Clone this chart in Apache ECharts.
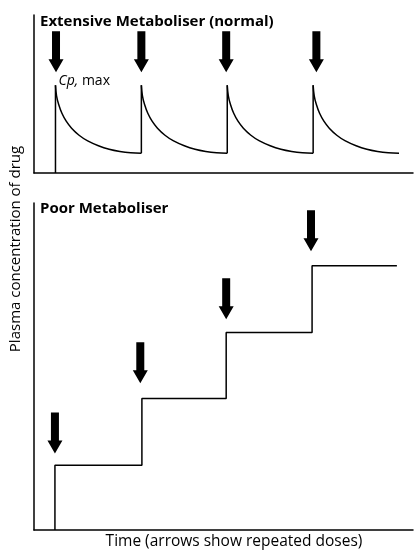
<!DOCTYPE html>
<html>
<head>
<meta charset="utf-8">
<script src="https://cdn.jsdelivr.net/npm/echarts@6/dist/echarts.min.js"></script>
<style>
  html, body { margin: 0; padding: 0; background: #fff; }
  #chart { width: 414px; height: 552px; }
</style>
</head>
<body>
<div id="chart"></div>
<script>
// Values (time in hours, arbitrary concentration units)

// Extensive metaboliser: a dose every 8 h, each followed by the same decay
const normalDoseTimes = [2, 10, 18, 26]
const decayOffsets = [0, 0.1, 0.3, 0.6, 1.0, 1.5, 2.2, 3.0, 4.0, 5.0, 6.0, 7.0, 8.0]
const decayLevels = [100, 88, 78, 68, 59, 51, 43, 36.5, 31, 27, 24.5, 23, 22.4]
const normalArrowTimes = [2.05, 10.0, 17.9, 26.3]
const normalArrowLevels = [138, 138, 138, 138]

// Poor metaboliser: each dose adds to what is already there
const poorDoseTimes = [1.95, 10.05, 17.9, 25.9]
const poorLevels = [0.98, 1.99, 2.99, 4.0]
const poorEndTime = 33.8
const poorArrowTimes = [1.95, 9.9, 17.9, 25.8]
const poorArrowLevels = [1.47, 2.53, 3.5, 4.53]

const FONT = "'Open Sans', Lato, sans-serif"
const INK = "#000"
const ARROW = "path://M3.5,0H11.5V28H15L7.5,41L0,28H3.5Z"

const hiddenAxis = (gridIndex, min, max) => ({
  type: "value",
  gridIndex,
  min,
  max,
  axisLine: { lineStyle: { color: INK, width: 1.5 } },
  axisTick: { show: false },
  axisLabel: { show: false },
  splitLine: { show: false },
})

const line = (axis, data, smooth) => ({
  type: "line",
  xAxisIndex: axis,
  yAxisIndex: axis,
  data,
  smooth: smooth || false,
  symbol: "none",
  silent: true,
  lineStyle: { color: INK, width: 1.5 },
})

const arrows = (axis, times, levels) => ({
  type: "scatter",
  xAxisIndex: axis,
  yAxisIndex: axis,
  symbol: ARROW,
  symbolSize: [15, 41],
  itemStyle: { color: INK, opacity: 1 },
  silent: true,
  data: times.map((t, i) => [t, levels[i]]),
})

const series = []

// rises at each dose, then the decay after it
const trough = decayLevels[decayLevels.length - 1]
normalDoseTimes.forEach((dose, i) => {
  series.push(line(0, [[dose, i === 0 ? 0 : trough], [dose, decayLevels[0]]]))
  series.push(line(0, decayOffsets.map((d, j) => [dose + d, decayLevels[j]]), 0.4))
})
series.push(arrows(0, normalArrowTimes, normalArrowLevels))

// Cp,max annotation on the first peak
series.push({
  type: "scatter",
  xAxisIndex: 0,
  yAxisIndex: 0,
  symbolSize: 0,
  silent: true,
  itemStyle: { opacity: 1 },
  data: [[normalDoseTimes[0], decayLevels[0]]],
  label: {
    show: true,
    position: [3, -11],
    formatter: "{i|Cp,} max",
    color: INK,
    fontFamily: FONT,
    fontSize: 14,
    rich: { i: { fontStyle: "italic", fontFamily: FONT, fontSize: 14, color: INK } },
  },
})

// staircase for the poor metaboliser
const steps = [[poorDoseTimes[0], 0]]
poorDoseTimes.forEach((dose, i) => {
  const next = i + 1 < poorDoseTimes.length ? poorDoseTimes[i + 1] : poorEndTime
  steps.push([dose, poorLevels[i]], [next, poorLevels[i]])
})
series.push(line(1, steps))
series.push(arrows(1, poorArrowTimes, poorArrowLevels))

const titleStyle = { fontFamily: FONT, fontSize: 15, fontWeight: "bold", color: INK }

const option = {
  animation: false,
  backgroundColor: "#fff",
  title: [
    { text: "Extensive Metaboliser (normal)", left: 40, top: 14, padding: 0, textStyle: titleStyle },
    { text: "Poor Metaboliser", left: 40, top: 201, padding: 0, textStyle: titleStyle },
  ],
  grid: [
    { left: 34, right: 1, top: 15, height: 158 },
    { left: 34, right: 1, top: 203, bottom: 22 },
  ],
  xAxis: [hiddenAxis(0, 0, 35.3), hiddenAxis(1, 0, 35.3)],
  yAxis: [hiddenAxis(0, 0, 180), hiddenAxis(1, 0, 4.95)],
  graphic: [
    {
      type: "text",
      x: 16,
      y: 249,
      rotation: Math.PI / 2,
      style: {
        text: "Plasma concentration of drug",
        font: "15px " + FONT,
        fill: INK,
        align: "center",
        verticalAlign: "middle",
      },
    },
    {
      type: "text",
      x: 234,
      y: 542,
      style: {
        text: "Time (arrows show repeated doses)",
        font: "15.5px " + FONT,
        fill: INK,
        align: "center",
        verticalAlign: "middle",
      },
    },
  ],
  series,
}

const chart = echarts.init(document.getElementById("chart"), null, { renderer: "canvas" })
chart.setOption(option)
</script>
</body>
</html>
